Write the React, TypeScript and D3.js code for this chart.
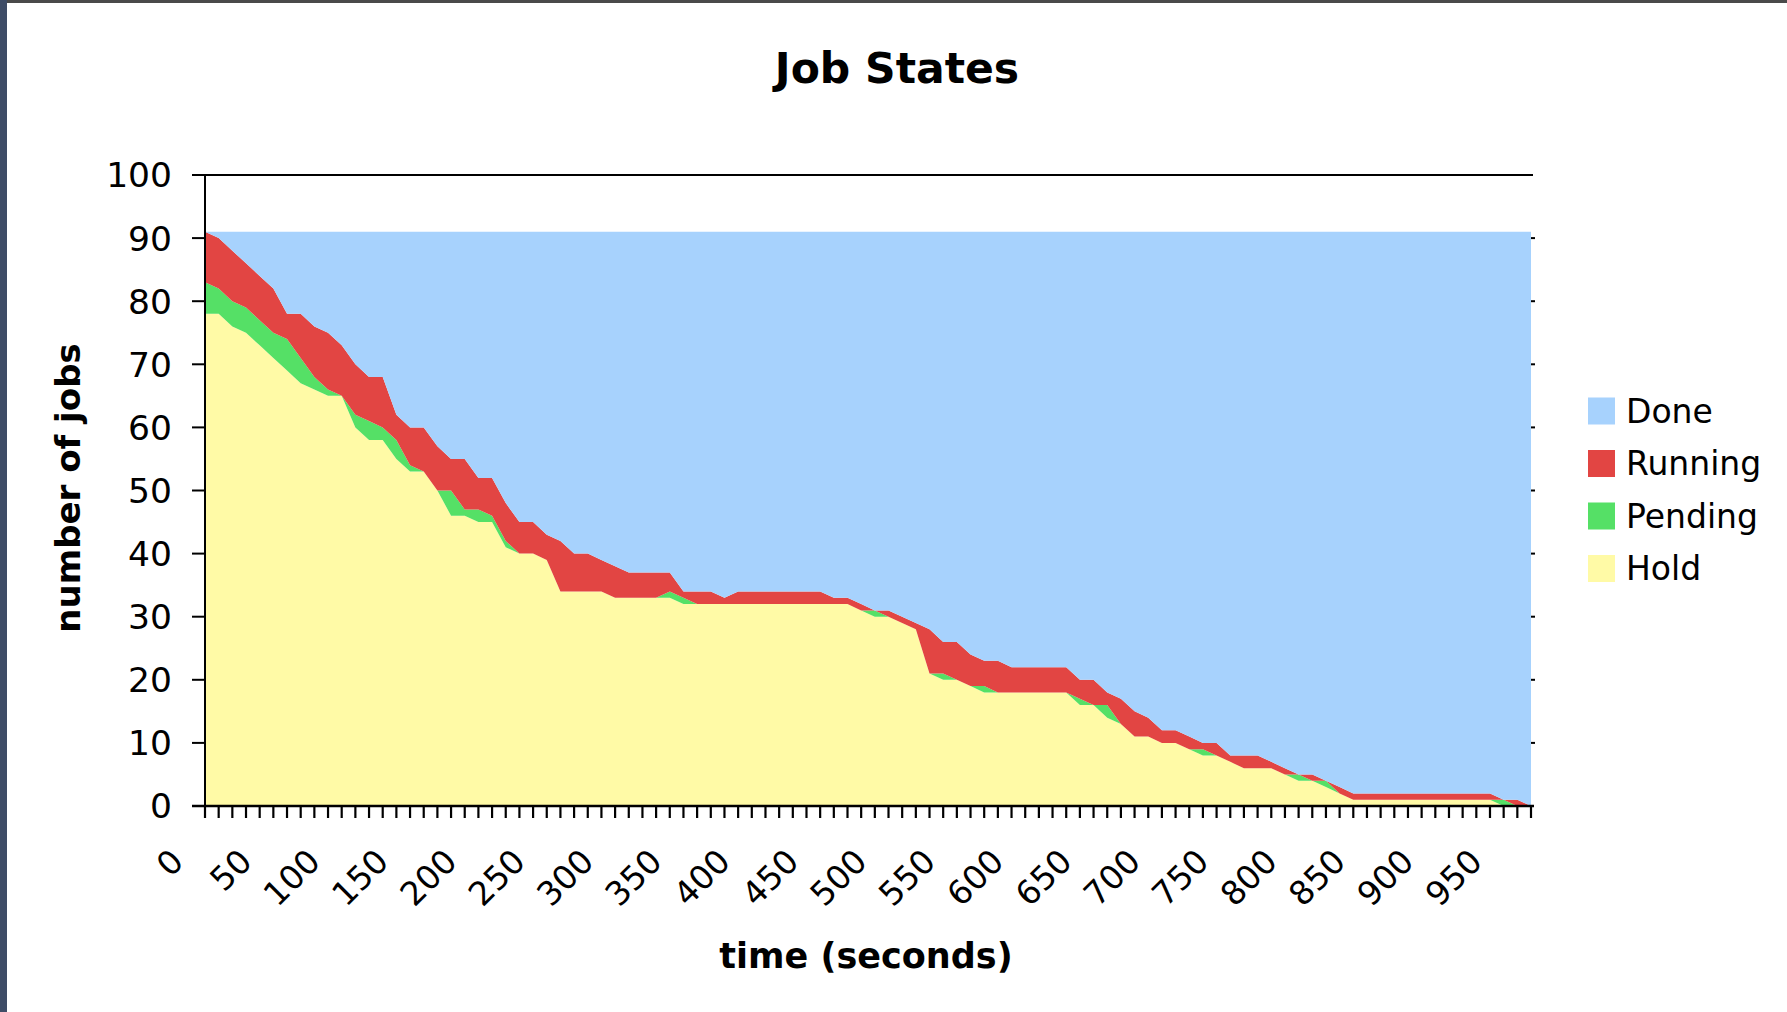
import * as d3 from "d3";

// sample times (seconds)
const seconds = [
  0, 10, 20, 30, 40, 50, 60, 70, 80, 90,
  100, 110, 120, 130, 140, 150, 160, 170, 180, 190,
  200, 210, 220, 230, 240, 250, 260, 270, 280, 290,
  300, 310, 320, 330, 340, 350, 360, 370, 380, 390,
  400, 410, 420, 430, 440, 450, 460, 470, 480, 490,
  500, 510, 520, 530, 540, 550, 560, 570, 580, 590,
  600, 610, 620, 630, 640, 650, 660, 670, 680, 690,
  700, 710, 720, 730, 740, 750, 760, 770, 780, 790,
  800, 810, 820, 830, 840, 850, 860, 870, 880, 890,
  900, 910, 920, 930, 940, 950, 960, 970,
];

const hold = [
  78, 78, 76, 75, 73, 71, 69, 67, 66, 65,
  65, 60, 58, 58, 55, 53, 53, 50, 46, 46,
  45, 45, 41, 40, 40, 39, 34, 34, 34, 34,
  33, 33, 33, 33, 33, 32, 32, 32, 32, 32,
  32, 32, 32, 32, 32, 32, 32, 32, 31, 30,
  30, 29, 28, 21, 20, 20, 19, 18, 18, 18,
  18, 18, 18, 18, 16, 16, 14, 13, 11, 11,
  10, 10, 9, 8, 8, 7, 6, 6, 6, 5,
  4, 4, 3, 2, 1, 1, 1, 1, 1, 1,
  1, 1, 1, 1, 1, 0, 0, 0,
];

const pending = [
  5, 4, 4, 4, 4, 4, 5, 4, 2, 1,
  0, 2, 3, 2, 3, 1, 0, 0, 4, 1,
  2, 1, 1, 0, 0, 0, 0, 0, 0, 0,
  0, 0, 0, 0, 1, 1, 0, 0, 0, 0,
  0, 0, 0, 0, 0, 0, 0, 0, 0, 1,
  0, 0, 0, 0, 1, 0, 0, 1, 0, 0,
  0, 0, 0, 0, 1, 0, 2, 0, 0, 0,
  0, 0, 0, 1, 0, 0, 0, 0, 0, 0,
  1, 0, 1, 0, 0, 0, 0, 0, 0, 0,
  0, 0, 0, 0, 0, 1, 0, 0,
];

const running = [
  8, 8, 8, 7, 7, 7, 4, 7, 8, 9,
  8, 8, 7, 8, 4, 6, 7, 7, 5, 8,
  5, 6, 6, 5, 5, 4, 8, 6, 6, 5,
  5, 4, 4, 4, 3, 1, 2, 2, 1, 2,
  2, 2, 2, 2, 2, 2, 1, 1, 1, 0,
  1, 1, 1, 7, 5, 6, 5, 4, 5, 4,
  4, 4, 4, 4, 3, 4, 2, 4, 4, 3,
  2, 2, 2, 1, 2, 1, 2, 2, 1, 1,
  0, 1, 0, 1, 1, 1, 1, 1, 1, 1,
  1, 1, 1, 1, 1, 0, 1, 0,
];

const done = [
  0, 1, 3, 5, 7, 9, 13, 13, 15, 16,
  18, 21, 23, 23, 29, 31, 31, 34, 36, 36,
  39, 39, 43, 46, 46, 48, 49, 51, 51, 52,
  53, 54, 54, 54, 54, 57, 57, 57, 58, 57,
  57, 57, 57, 57, 57, 57, 58, 58, 59, 60,
  60, 61, 62, 63, 65, 65, 67, 68, 68, 69,
  69, 69, 69, 69, 71, 71, 73, 74, 76, 77,
  79, 79, 80, 81, 81, 83, 83, 83, 84, 85,
  86, 86, 87, 88, 89, 89, 89, 89, 89, 89,
  89, 89, 89, 89, 89, 90, 90, 91,
];

const stackKeys = ["Hold", "Pending", "Running", "Done"];
const legendKeys = ["Done", "Running", "Pending", "Hold"];
const colors: Record<string, string> = {
  Done: "#a7d2fd",
  Running: "#e24543",
  Pending: "#55e066",
  Hold: "#fffaa6",
};

const yTicks = [0, 10, 20, 30, 40, 50, 60, 70, 80, 90, 100];
const xTickLabels = [0, 50, 100, 150, 200, 250, 300, 350, 400, 450, 500, 550, 600, 650, 700, 750, 800, 850, 900, 950];

const font = "'DejaVu Sans', Verdana, sans-serif";

export default function App() {
  const width = 1787;
  const height = 1012;
  const left = 205;
  const right = 1531;
  const top = 175;
  const bottom = 806;

  const x = d3.scaleLinear().domain([0, 970]).range([left, right]);
  const y = d3.scaleLinear().domain([0, 100]).range([bottom, top]);

  const rows = seconds.map((t, i) => ({
    t,
    Hold: hold[i],
    Pending: pending[i],
    Running: running[i],
    Done: done[i],
  }));

  const stacked = d3.stack<any>().keys(stackKeys)(rows);

  const area = d3
    .area<any>()
    .x((d) => x(d.data.t))
    .y0((d) => y(d[0]))
    .y1((d) => y(d[1]));

  return (
    <svg
      width={width}
      height={height}
      style={{position: "fixed", left: 0, top: 0, background: "#fff"}}
      fontFamily={font}
    >
      <rect x={0} y={0} width={width} height={height} fill="#fff" />
      {/* window frame */}
      <rect x={0} y={0} width={width} height={3} fill="#4a4a4a" />
      <rect x={0} y={0} width={7} height={height} fill="#3e4c66" />

      <text x={897} y={83} textAnchor="middle" fontSize={42.5} fontWeight="bold" fill="#000">
        Job States
      </text>

      {/* areas */}
      {stacked.map((s) => (
        <path key={s.key} d={area(s) ?? ""} fill={colors[s.key]} />
      ))}

      {/* top border line */}
      <line x1={left} x2={right + 2} y1={y(100)} y2={y(100)} stroke="#000" strokeWidth={2} />

      {/* y axis */}
      <line x1={left} x2={left} y1={y(100)} y2={bottom + 12} stroke="#000" strokeWidth={2} />
      {yTicks.map((v) => (
        <g key={v}>
          <line x1={left - 13} x2={left} y1={y(v)} y2={y(v)} stroke="#000" strokeWidth={2} />
          {v > 0 && v < 100 && (
            <line x1={right} x2={right + 4} y1={y(v)} y2={y(v)} stroke="#000" strokeWidth={2} />
          )}
          <text x={172} y={y(v)} dy="0.36em" textAnchor="end" fontSize={34.5} fill="#000">
            {v}
          </text>
        </g>
      ))}

      {/* x axis */}
      <line x1={left - 13} x2={right + 3} y1={bottom} y2={bottom} stroke="#000" strokeWidth={2.5} />
      {seconds.map((t) => (
        <line key={t} x1={x(t)} x2={x(t)} y1={bottom} y2={bottom + 12} stroke="#000" strokeWidth={2.2} />
      ))}
      {xTickLabels.map((t) => (
        <text
          key={t}
          transform={`translate(${x(t) - 28},${bottom + 49}) rotate(-45)`}
          dy="0.36em"
          textAnchor="end"
          fontSize={33}
          fill="#000"
        >
          {t}
        </text>
      ))}

      <text x={866} y={968} textAnchor="middle" fontSize={35} fontWeight="bold" fill="#000">
        time (seconds)
      </text>
      <text
        transform={`translate(80,488) rotate(-90)`}
        textAnchor="middle"
        fontSize={34}
        fontWeight="bold"
        fill="#000"
      >
        number of jobs
      </text>

      {/* legend */}
      {legendKeys.map((k, i) => (
        <g key={k} transform={`translate(1588,${411 + i * 52.5})`}>
          <rect x={0} y={-13.5} width={27} height={27} fill={colors[k]} />
          <text x={38} y={0} dy="0.36em" fontSize={33} fill="#000">
            {k}
          </text>
        </g>
      ))}
    </svg>
  );
}
